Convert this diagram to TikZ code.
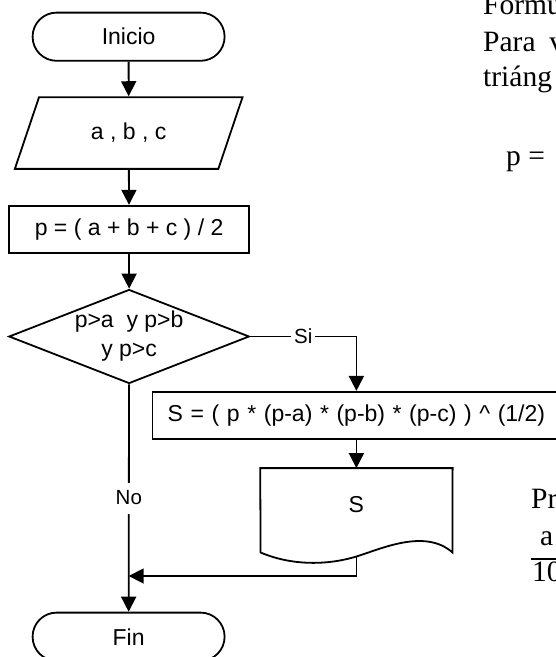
\documentclass[tikz,border=0pt]{standalone}
\usepackage{fontspec}
\setmainfont{Liberation Sans}
\newfontfamily\docserif{Liberation Serif}
\usetikzlibrary{arrows.meta,shapes.geometric}
\newcommand{\fcsize}{\fontsize{23}{29}\selectfont}
\newcommand{\lblsize}{\fontsize{20.5}{24}\selectfont}
\newcommand{\notesize}{\docserif\fontsize{29.5}{35}\selectfont}
\tikzset{
  blk/.style={draw, line width=1.8pt, align=center, inner sep=0pt,
              font=\fcsize},
  term/.style={blk, rounded corners=24pt, minimum width=192pt,
               minimum height=48.2pt},
  io/.style={blk, trapezium, trapezium left angle=62.6,
             trapezium right angle=117.4, trapezium stretches,
             minimum width=228.8pt, minimum height=71.7pt},
  proc/.style={blk, rectangle, minimum height=47pt},
  cond/.style={blk, diamond, aspect=2.56, minimum width=240.4pt,
               minimum height=94pt},
  flow/.style={-{Triangle[length=15pt,width=15pt]}, line width=1.8pt},
  lbl/.style={fill=white, font=\lblsize, inner xsep=3pt, inner ysep=0pt,
              minimum height=31pt},
  note/.style={font=\notesize, anchor=base west, inner sep=0pt},
}

\begin{document}
\begin{tikzpicture}[x=1pt,y=-1pt]
\useasboundingbox (0,0) rectangle (556,657);
\tikzset{
  docbox/.style={minimum width=192pt, minimum height=73.4pt, inner sep=0pt,
                 font=\fcsize},
}

% ---------------- main column --------------------------------------------
\node[term] at (128.6,36.7) (start) {Inicio};
\node[io] at (128.7,133) (sides) {a , b , c};
\node[proc, minimum width=240.4pt] at (129.1,229.2) (semi)
   {p = ( a + b + c ) / 2};
\node[cond] at (129.1,336.5) (check) {p>a\ \ y p>b\\y p>c};
\node[term] at (128.6,636.7) (stop) {Fin};

\draw[flow] (start) -- (sides);
\draw[flow] (sides) -- (semi);
\draw[flow] (semi) -- (check);
\draw[flow] (check) -- node[lbl]{No} (stop);

% ---------------- area branch --------------------------------------------
\node[proc, minimum width=408pt] at (356.4,415.3) (area)
   {\spaceskip=7.6pt S = ( p * (p-a) * (p-b) * (p-c) ) \textasciicircum\ (1/2)};
\draw[flow] (check.east) -| node[lbl, pos=0.25]{Si} (area.north);

\node[docbox] at (356.4,505) (out) {S};
\coordinate (docout) at (356.4,556.5);
\draw[line width=1.8pt] (out.north west) -- (out.north east) -- (452.5,552.5)
   .. controls (425,528) and (380.4,549.2) .. (docout)
   .. controls (325,566) and (290,565) .. (260.6,552.5) -- cycle;
\draw[flow] (area) -- (out);

\coordinate (join) at (128.7,576);
\draw[flow] (docout) |- (join);

% ---------------- side text ----------------------------------------------
\node[note] at (483,14.7) (t1) {Formu};
\node[note] at (483,51) (t2) {Para\hspace{13.7pt}v};
\node[note] at (483,86) (t3) {triáng};
\node[note] at (506,165.5) (t4) {p =};
\node[note] at (531,508) (t5) {Pr};
\node[note] at (540,545) (t6) {a};
\draw[line width=1.5pt] (531,559) -- (560,559);
\node[note] at (532,581.5) (t7) {10};
\end{tikzpicture}
\end{document}
